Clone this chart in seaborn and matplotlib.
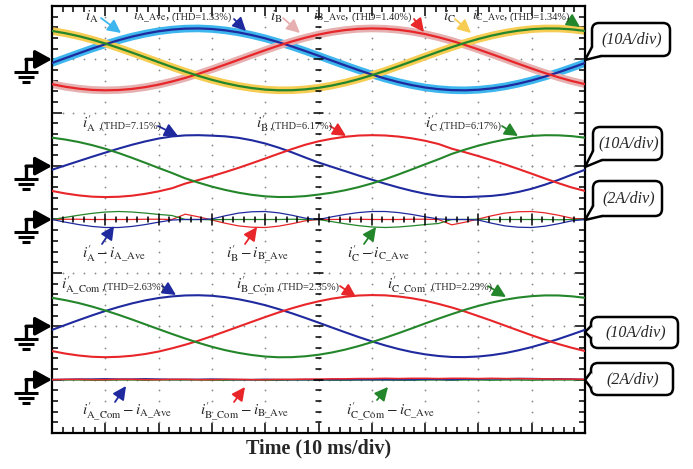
import numpy as np
import pandas as pd
import seaborn as sns
import matplotlib.pyplot as plt
from matplotlib.patches import FancyBboxPatch, Polygon

# time base: 10 ms/div, 10 divisions, one sample every 2.5 ms
t_ms = np.arange(0, 100.1, 2.5)

# averaged phase currents (A) at 10 A/div
ia_ave = [-0.68, 0.23, 1.13, 2.01, 2.83, 3.59, 4.26, 4.82, 5.27, 5.58,
          5.76, 5.80, 5.69, 5.44, 5.06, 4.55, 3.94, 3.22, 2.43, 1.57,
          0.68, -0.23, -1.13, -2.01, -2.83, -3.59, -4.26, -4.82, -5.27, -5.58,
          -5.76, -5.80, -5.69, -5.44, -5.06, -4.55, -3.94, -3.22, -2.43, -1.57,
          -0.68]
ib_ave = [-4.65, -5.13, -5.49, -5.72, -5.80, -5.74, -5.54, -5.20, -4.74, -4.15,
          -3.47, -2.70, -1.86, -0.98, -0.08, 0.83, 1.72, 2.57, 3.35, 4.05,
          4.65, 5.13, 5.49, 5.72, 5.80, 5.74, 5.54, 5.20, 4.74, 4.15,
          3.47, 2.70, 1.86, 0.98, 0.08, -0.83, -1.72, -2.57, -3.35, -4.05,
          -4.65]
ic_ave = [5.33, 4.90, 4.36, 3.71, 2.97, 2.15, 1.28, 0.38, -0.53, -1.43,
          -2.29, -3.10, -3.83, -4.46, -4.98, -5.38, -5.66, -5.79, -5.78, -5.62,
          -5.33, -4.90, -4.36, -3.71, -2.97, -2.15, -1.28, -0.38, 0.53, 1.43,
          2.29, 3.10, 3.83, 4.46, 4.98, 5.38, 5.66, 5.79, 5.78, 5.62,
          5.33]

# i' - i_Ave (A), 2 A/div trace
da = [0.0, -0.10, -0.19, -0.26, -0.30, -0.30, -0.26, -0.19, -0.10, -0.02,
      0.0, 0.0, 0.02, 0.14, 0.24, 0.29, 0.30, 0.25, 0.16, 0.05,
      0.0, 0.10, 0.19, 0.26, 0.30, 0.30, 0.26, 0.19, 0.10, 0.02,
      0.0, 0.0, -0.02, -0.14, -0.24, -0.29, -0.30, -0.25, -0.16, -0.05,
      0.0]
db = [0.0, 0.01, 0.01, 0.0, 0.0, 0.0, 0.0, 0.01, 0.01, 0.0,
      0.20, 0.10, -0.02, -0.14, -0.24, -0.29, -0.30, -0.25, -0.16, -0.05,
      0.0, 0.0, 0.01, 0.01, 0.0, 0.0, 0.0, 0.01, 0.01, 0.0,
      -0.20, -0.10, 0.02, 0.14, 0.24, 0.29, 0.30, 0.25, 0.16, 0.05,
      0.0]
dc = [0.0, 0.08, 0.16, 0.23, 0.28, 0.30, 0.28, 0.24, 0.19, 0.15,
      0.0, 0.0, -0.01, 0.0, 0.0, 0.0, 0.0, 0.0, 0.01, 0.0,
      0.0, -0.08, -0.16, -0.23, -0.28, -0.30, -0.28, -0.24, -0.19, -0.15,
      0.0, 0.0, 0.01, 0.0, 0.0, 0.0, 0.0, 0.0, -0.01, 0.0,
      0.0]

# i_Com' - i_Ave (A), 2 A/div trace
da_com = [0.0, 0.01, 0.02, 0.02, 0.03, 0.02, 0.02, 0.03, 0.02, 0.01,
          0.01, 0.01, 0.02, 0.01, 0.0, 0.0, 0.01, 0.0, 0.0, 0.0,
          0.0, 0.0, 0.0, 0.0, 0.0, 0.0, 0.0, 0.0, 0.01, 0.01,
          0.0, 0.02, 0.02, 0.03, 0.03, 0.04, 0.04, 0.03, 0.03, 0.02,
          0.01]
db_com = [0.0, 0.01, 0.01, 0.0, 0.0, 0.01, 0.01, 0.0, 0.0, 0.01,
          0.01, 0.0, 0.0, 0.01, 0.01, 0.0, 0.0, 0.01, 0.01, 0.02,
          0.02, 0.03, 0.03, 0.04, 0.04, 0.05, 0.04, 0.05, 0.05, 0.04,
          0.05, 0.05, 0.04, 0.05, 0.04, 0.04, 0.03, 0.03, 0.02, 0.02,
          0.01]
dc_com = [0.0, -0.01, -0.01, -0.02, -0.02, -0.01, -0.01, -0.02, -0.01, -0.01,
          -0.01, -0.01, -0.02, -0.02, -0.01, -0.01, -0.02, -0.02, -0.01, -0.01,
          -0.01, -0.02, -0.02, -0.01, -0.01, -0.01, -0.02, -0.02, -0.01, -0.01,
          -0.02, -0.01, -0.01, -0.02, -0.01, -0.01, -0.02, -0.01, -0.01, -0.01,
          0.0]

# ground level (div) and scale (A/div) of each channel
grounds = [7, 5, 4, 2, 1]
scales = [10, 10, 2, 10, 2]

df = pd.DataFrame({'t': t_ms, 'ia': ia_ave, 'ib': ib_ave, 'ic': ic_ave,
                   'da': da, 'db': db, 'dc': dc,
                   'da_com': da_com, 'db_com': db_com, 'dc_com': dc_com})

sns.set_theme(style='white')
plt.rcParams['font.family'] = ['Liberation Serif', 'DejaVu Serif']
plt.rcParams['mathtext.fontset'] = 'stix'

BLUE, RED, GREEN = '#1f2a9e', '#e8262a', '#24862a'
LBLUE, PINK, YELLOW = '#3db6ee', '#e6b0b0', '#f6cc52'

fig = plt.figure(figsize=(6.93, 4.69), dpi=100)
ax = fig.add_axes([52 / 693, 36 / 469, 533 / 693, 427 / 469])
ax.set_xlim(0, 100)
ax.set_ylim(0, 8)

# dotted graticule
for gx in range(10, 100, 10):
    ax.plot([gx] * 41, np.arange(0, 8.01, 0.2), ls='none', marker='o', ms=1.3,
            color='#8a8a8a', mec='none', zorder=1)
for gy in range(1, 8):
    ax.plot(np.arange(0, 100.1, 2), [gy] * 51, ls='none', marker='o', ms=1.3,
            color='#8a8a8a', mec='none', zorder=1)


def trace(col, g, s, color, lw, z=3, base=None):
    y = g + df[col] / s if base is None else g + (df[base] + df[col]) / s
    sns.lineplot(x=df['t'], y=y, ax=ax, color=color, linewidth=lw, estimator=None,
                 sort=False, legend=False, zorder=z)


# channel 1: measured (thick) and averaged currents
for col, c in [('ia', LBLUE), ('ib', PINK), ('ic', YELLOW)]:
    trace(col, grounds[0], scales[0], c, 5.5, z=2)
for col, c in [('ia', BLUE), ('ib', RED), ('ic', GREEN)]:
    trace(col, grounds[0], scales[0], c, 1.6)

# channel 2: i' = i_Ave + error
for base, col, c in [('ia', 'da', BLUE), ('ib', 'db', RED), ('ic', 'dc', GREEN)]:
    trace(col, grounds[1], scales[1], c, 1.5, base=base)
# channel 3: errors
for col, c in [('db', RED), ('dc', GREEN), ('da', BLUE)]:
    trace(col, grounds[2], scales[2], c, 0.9)
# channel 4: compensated currents
for base, col, c in [('ia', 'da_com', BLUE), ('ib', 'db_com', RED), ('ic', 'dc_com', GREEN)]:
    trace(col, grounds[3], scales[3], c, 1.5, base=base)
# channel 5: compensated errors
for col, c in [('dc_com', GREEN), ('da_com', BLUE), ('db_com', RED)]:
    trace(col, grounds[4], scales[4], c, 1.1)

# centre cross ticks
for i, xv in enumerate(np.arange(0, 100.1, 2)):
    h = 0.095 if i % 5 == 0 else 0.05
    ax.plot([xv, xv], [4 - h, 4 + h], color='black', lw=1.1, zorder=6)
for i, yv in enumerate(np.arange(0, 8.01, 0.2)):
    w = 0.8 if i % 5 == 0 else 0.55
    ax.plot([50 - w, 50 + w], [yv, yv], color='black', lw=1.1, zorder=6)

ax.set_xticks(np.arange(0, 101, 10))
ax.set_xticks(np.arange(0, 101, 2), minor=True)
ax.set_yticks(np.arange(0, 8.1, 1))
ax.set_yticks(np.arange(0, 8.1, 0.2), minor=True)
ax.tick_params(which='both', direction='in', top=True, right=True, bottom=True, left=True,
               labelbottom=False, labelleft=False, color='black', width=1.1)
ax.tick_params(which='major', length=7)
ax.tick_params(which='minor', length=4.5)
ax.set_xlabel('')
ax.set_ylabel('')
for sp in ax.spines.values():
    sp.set_color('black')
    sp.set_linewidth(1.6)

# overlay in pixel coordinates for annotations
ov = fig.add_axes([0, 0, 1, 1], zorder=10)
ov.set_xlim(0, 693)
ov.set_ylim(469, 0)
ov.axis('off')

# ground markers
for g in grounds:
    gy = 433 - g * 427 / 8
    ov.annotate('', xy=(52, gy), xytext=(26, gy), annotation_clip=False,
                arrowprops=dict(arrowstyle='-|>,head_length=1.0,head_width=0.55',
                                mutation_scale=10, lw=2.4, color='black', shrinkA=0, shrinkB=0))
    ov.plot([26, 26], [gy, gy + 13], color='black', lw=2.4, solid_capstyle='butt')
    for dy, half in [(13, 12), (18, 8), (23, 4)]:
        ov.plot([26 - half, 26 + half], [gy + dy, gy + dy], color='black', lw=2.2,
                solid_capstyle='butt')


def callout(x0, y0, x1, y1, tail, label):
    ov.add_patch(FancyBboxPatch((x0, y0), x1 - x0, y1 - y0,
                                boxstyle='round,pad=0,rounding_size=7',
                                fc='white', ec='black', lw=1.8, zorder=5))
    p1, tip, p2, inner = tail
    ov.add_patch(Polygon([p1, tip, p2, inner], closed=True, fc='white', ec='none', zorder=6))
    ov.plot([p1[0], tip[0], p2[0]], [p1[1], tip[1], p2[1]], color='black', lw=1.8, zorder=7)
    ov.text((x0 + x1) / 2 + 1, (y0 + y1) / 2, label, ha='center', va='center',
            fontsize=11.5, style='italic', zorder=8)


callout(592, 23, 670, 56, [(592, 47), (585, 60), (601, 56), (601, 47)], '(10A/div)')
callout(593, 127, 662, 160, [(593, 151), (585, 167), (602, 160), (602, 151)], '(10A/div)')
callout(593, 181, 662, 216, [(593, 206), (585, 220), (602, 216), (602, 206)], '(2A/div)')
callout(591, 317, 678, 348, [(591, 326), (585, 332), (591, 338), (596, 332)], '(10A/div)')
callout(591, 363, 673, 395, [(591, 372), (585, 380), (591, 388), (596, 380)], '(2A/div)')

# trace labels
labels_math = [
    (85, 17, r'$i_{\rm A}$', 11), (133, 17, r'$i_{\rm A\_Ave}$,', 10),
    (270, 17, r'$i_{\rm B}$', 11), (313, 17, r'$i_{\rm B\_Ave}$,', 10),
    (443, 17, r'$i_{\rm C}$', 11), (472, 17, r'$i_{\rm C\_Ave}$,', 10),
    (82, 124, r'$i_{\rm A}^{\prime}$', 11), (256, 124, r'$i_{\rm B}^{\prime}$', 11),
    (425, 124, r'$i_{\rm C}^{\prime}$', 11),
    (82, 254, r'$i_{\rm A}^{\prime}-i_{\rm A\_Ave}$', 11),
    (226, 254, r'$i_{\rm B}^{\prime}-i_{\rm B\_Ave}$', 11),
    (347, 254, r'$i_{\rm C}^{\prime}-i_{\rm C\_Ave}$', 11),
    (61, 286, r'$i_{\rm A\_Com}^{\prime}$', 11), (236, 286, r'$i_{\rm B\_Com}^{\prime}$', 11),
    (387, 286, r'$i_{\rm C\_Com}^{\prime}$', 11),
    (82, 412, r'$i_{\rm A\_Com}^{\prime}-i_{\rm A\_Ave}$', 11),
    (200, 412, r'$i_{\rm B\_Com}^{\prime}-i_{\rm B\_Ave}$', 11),
    (346, 412, r'$i_{\rm C\_Com}^{\prime}-i_{\rm C\_Ave}$', 11),
]
for x, y, s, fs in labels_math:
    ov.text(x, y, s, ha='left', va='center', fontsize=fs, zorder=9)

labels_thd = [
    (171, 17, '(THD=1.33%)'), (351, 17, '(THD=1.40%)'), (509, 17, '(THD=1.34%)'),
    (99, 126, ',(THD=7.15%)'), (270, 126, ',(THD=6.17%)'), (439, 126, ',(THD=6.17%)'),
    (102, 287, ',(THD=2.63%)'), (277, 287, ',(THD=2.35%)'), (430, 287, ',(THD=2.29%)'),
]
for x, y, s in labels_thd:
    ov.text(x, y, s, ha='left', va='center', fontsize=7.5, zorder=9)

arrows = [
    ((101, 18), (121, 33), LBLUE), ((234, 19), (246, 31), BLUE),
    ((283, 18), (300, 33), PINK), ((414, 19), (424, 32), RED),
    ((455, 19), (471, 33), YELLOW), ((568, 19), (580, 27), GREEN),
    ((158, 126), (178, 136), BLUE), ((330, 126), (346, 136), RED),
    ((502, 126), (518, 136), GREEN),
    ((102, 244), (114, 226), BLUE), ((245, 244), (257, 227), RED),
    ((364, 244), (376, 227), GREEN),
    ((162, 286), (176, 295), BLUE), ((340, 286), (356, 297), RED),
    ((488, 286), (506, 297), GREEN),
    ((115, 402), (126, 386), BLUE), ((234, 402), (245, 387), RED),
    ((377, 400), (388, 387), GREEN),
]
for p0, p1, c in arrows:
    ov.annotate('', xy=p1, xytext=p0, annotation_clip=False,
                arrowprops=dict(arrowstyle='-|>,head_length=0.8,head_width=0.4',
                                mutation_scale=10, lw=1.3, color=c, shrinkA=0, shrinkB=0))

ov.text(319, 448, 'Time (10 ms/div)', ha='center', va='center', fontsize=14.5,
        fontweight='bold')

fig.savefig('out.png', dpi=100)
